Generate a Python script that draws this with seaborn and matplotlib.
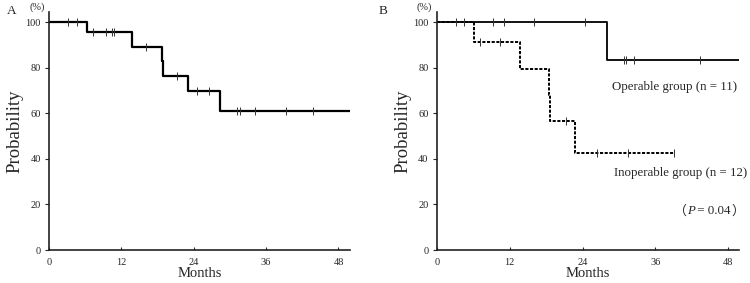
import matplotlib
matplotlib.use("Agg")
import matplotlib.pyplot as plt
import seaborn as sns
import pandas as pd

# Panel A: overall survival curve (step times in months, survival %)
a_times = [0, 6.3, 13.8, 18.7, 18.9, 23.1, 28.4, 49.9]
a_surv = [100, 95.5, 89.3, 83.0, 76.5, 69.6, 60.9, 60.9]
a_cens_t = [3.2, 4.6, 7.3, 9.4, 10.4, 10.8, 16.1, 21.2, 24.6, 26.5,
            31.1, 31.6, 34.2, 39.3, 43.7]
a_cens_s = [100, 100, 95.5, 95.5, 95.5, 95.5, 89.3, 76.5, 69.6, 69.6,
            60.9, 60.9, 60.9, 60.9, 60.9]

# Panel B: operable group
op_times = [0, 28.1, 49.8]
op_surv = [100, 83.3, 83.3]
op_cens_t = [3.2, 4.5, 9.3, 11.0, 16.0, 24.4, 30.9, 31.2, 32.4, 43.4]
op_cens_s = [100, 100, 100, 100, 100, 100, 83.3, 83.3, 83.3, 83.3]

# Panel B: inoperable group
inop_times = [0, 6.2, 13.7, 18.4, 18.6, 22.8, 39.1]
inop_surv = [100, 91.3, 79.6, 68.0, 56.8, 42.5, 42.5]
inop_cens_t = [7.2, 10.4, 21.2, 26.3, 31.4, 39.0]
inop_cens_s = [91.3, 91.3, 56.8, 42.5, 42.5, 42.5]

xticks = [0, 12, 24, 36, 48]
yticks = [0, 20, 40, 60, 80, 100]

sns.set_style("white")
plt.rcParams["font.family"] = ["Liberation Serif", "Noto Sans CJK JP"]

fig = plt.figure(figsize=(7.5, 2.83), dpi=100)
ax_a = fig.add_axes([0.0653, 0.1166, 0.4013, 0.841])
ax_b = fig.add_axes([0.5823, 0.1166, 0.4035, 0.841])


def km_line(ax, times, surv, ls, lw):
    df = pd.DataFrame({"t": times, "s": surv})
    sns.lineplot(data=df, x="t", y="s", ax=ax, drawstyle="steps-post",
                 color="black", linestyle=ls, linewidth=lw, estimator=None)


def censor(ax, t, s):
    df = pd.DataFrame({"t": t, "s": s})
    sns.scatterplot(data=df, x="t", y="s", ax=ax, marker="|", s=30,
                    color="#333333", linewidth=0.7, zorder=3)


km_line(ax_a, a_times, a_surv, "-", 1.6)
censor(ax_a, a_cens_t, a_cens_s)

km_line(ax_b, op_times, op_surv, "-", 1.3)
censor(ax_b, op_cens_t, op_cens_s)
km_line(ax_b, inop_times, inop_surv, (0, (1.6, 0.8)), 1.4)
censor(ax_b, inop_cens_t, inop_cens_s)

for ax, xmax in [(ax_a, 49.9), (ax_b, 49.8)]:
    ax.set_xlim(0, xmax)
    ax.set_ylim(0, 104.5)
    ax.set_xticks(xticks)
    ax.set_yticks(yticks)
    ax.tick_params(axis="x", direction="in", length=2.5, width=0.8,
                   labelsize=7.5, pad=6)
    ax.tick_params(axis="y", direction="out", length=3, width=0.8,
                   labelsize=7.5, pad=3, left=True)
    ax.tick_params(axis="x", bottom=True)
    for side in ["top", "right"]:
        ax.spines[side].set_visible(False)
    for side in ["left", "bottom"]:
        ax.spines[side].set_linewidth(1.2)
        ax.spines[side].set_color("#222222")
    ax.set_xlabel("Months", fontsize=10.5, labelpad=0)
    ax.set_ylabel("Probability", fontsize=13.5, labelpad=1)
    ax.text(-0.04, 1.02, "(%)", transform=ax.transAxes, fontsize=7.5,
            ha="center", va="center")

fig.text(0.009, 0.962, "A", fontsize=9.5, ha="left", va="center")
fig.text(0.505, 0.962, "B", fontsize=9.5, ha="left", va="center")

ax_b.text(28.9, 71.5, "Operable group (n = 11)", fontsize=9.3,
          ha="left", va="center")
ax_b.text(29.2, 33.6, "Inoperable group (n = 12)", fontsize=9.3,
          ha="left", va="center")

# (P = 0.04) with full-width parentheses and italic P
p_open = ax_b.text(39.0, 17.2, "（", fontsize=9.3, ha="left", va="center",
                   family=["Noto Sans CJK JP"])
p_letter = ax_b.annotate("P", xy=(1.0, 0.5), xycoords=p_open, fontsize=9.3,
                         ha="left", va="center", style="italic")
p_rest = ax_b.annotate(" = 0.04", xy=(1, 0.5), xycoords=p_letter,
                       fontsize=9.3, ha="left", va="center")
ax_b.annotate("）", xy=(1, 0.5), xycoords=p_rest, fontsize=9.3,
              ha="left", va="center", family=["Noto Sans CJK JP"])

fig.savefig("out.png", dpi=100)
